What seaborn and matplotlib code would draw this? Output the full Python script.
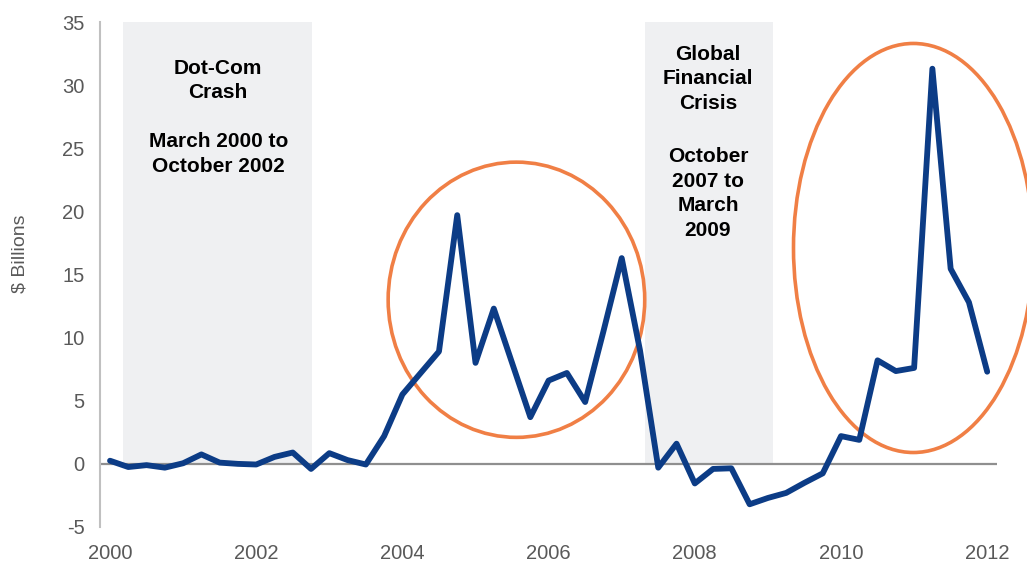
import numpy as np
import pandas as pd
import matplotlib
matplotlib.use("Agg")
import matplotlib.pyplot as plt
from matplotlib.patches import Ellipse
import seaborn as sns

# ---- data (quarterly, 2000Q1 .. 2012Q1), $ billions ----
start_year = 2000.0
values = [0.25, -0.25, -0.1, -0.3, 0.05, 0.75, 0.1, 0.0,
          -0.05, 0.55, 0.9, -0.4, 0.85, 0.3, -0.05, 2.2,
          5.5, 7.2, 8.9, 19.7, 8.0, 12.3, 8.0, 3.7,
          6.6, 7.2, 4.9, 10.5, 16.3, 9.0, -0.3, 1.6,
          -1.55, -0.4, -0.35, -3.2, -2.7, -2.3, -1.5, -0.75,
          2.2, 1.9, 8.2, 7.35, 7.6, 31.3, 15.45, 12.8, 7.3]
years = [start_year + 0.25 * i for i in range(len(values))]

x_ticks = [2000, 2002, 2004, 2006, 2008, 2010, 2012]
y_ticks = [-5, 0, 5, 10, 15, 20, 25, 30, 35]

crisis_spans = [(2000.18, 2002.76), (2007.32, 2009.07)]
crisis_labels = ["Dot-Com\nCrash", "March 2000 to\nOctober 2002",
                 "Global\nFinancial\nCrisis", "October\n2007 to\nMarch\n2009"]
label_pos = [(2001.48, 32.1), (2001.48, 26.25), (2008.18, 33.2), (2008.18, 25.1)]

ellipses = [((2005.56, 13.0), 3.51, 21.8), ((2010.99, 17.1), 3.28, 32.4)]

df = pd.DataFrame({"year": years, "value": values})

sns.set_style("white")
plt.rcParams["font.family"] = ["Liberation Sans", "DejaVu Sans"]
plt.rcParams["axes.unicode_minus"] = False

fig = plt.figure(figsize=(10.27, 5.65), dpi=100)
ax = fig.add_axes([100 / 1027, 38 / 565, 897 / 1027, 505 / 565])

for (a, b) in crisis_spans:
    ax.fill_between([a, b], 0, 35, color="#eff0f2", zorder=0, linewidth=0)

ax.axhline(0, color="#8f8f8f", lw=1.6, zorder=1)

sns.lineplot(data=df, x="year", y="value", ax=ax, color="#0c3c86",
             linewidth=4.2, zorder=3)
for l in ax.get_lines():
    l.set_solid_capstyle("round")
    l.set_solid_joinstyle("round")

for (c, w, h) in ellipses:
    e = Ellipse(c, w, h, fill=False, edgecolor="#f07f45", linewidth=2.6,
                zorder=2, clip_on=False)
    ax.add_patch(e)

for txt, (x, y) in zip(crisis_labels, label_pos):
    ax.text(x, y, txt, ha="center", va="top", fontsize=15, fontweight="bold",
            color="black", linespacing=1.37, zorder=4)

ax.set_xlim(1999.863, 2012.134)
ax.set_ylim(-5, 35)
ax.set_xticks(x_ticks)
ax.set_yticks(y_ticks)
ax.tick_params(axis="both", length=0, labelsize=14.5, labelcolor="#595959")
ax.tick_params(axis="y", pad=11)
ax.tick_params(axis="x", pad=12)
ax.set_xlabel("")
ax.set_ylabel("")

for s in ["top", "right", "bottom"]:
    ax.spines[s].set_visible(False)
ax.spines["left"].set_color("#c0c0c0")
ax.spines["left"].set_linewidth(1.5)

fig.text(20 / 1027, 1 - 254 / 565, "$ Billions", rotation=90, ha="center",
         va="center", fontsize=14, color="#595959")

fig.savefig("out.png", dpi=100)
